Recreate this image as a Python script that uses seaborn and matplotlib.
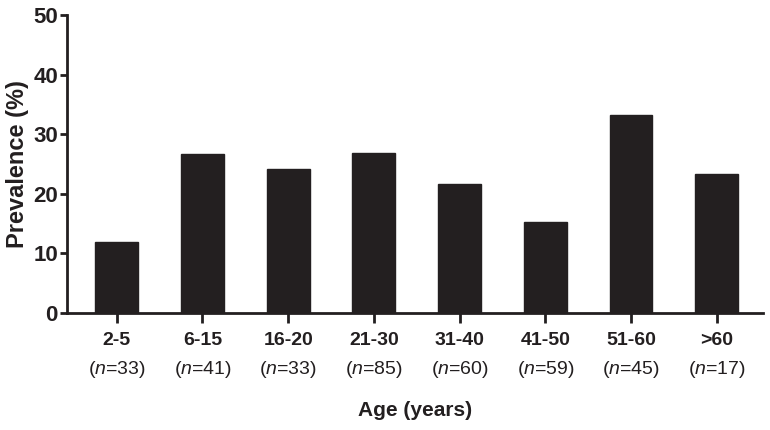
import matplotlib
matplotlib.use('Agg')
import matplotlib.pyplot as plt
import seaborn as sns
import pandas as pd

sns.set_theme(style="ticks")
plt.rcParams['font.family'] = ['Liberation Sans', 'DejaVu Sans']
plt.rcParams['mathtext.fontset'] = 'custom'
plt.rcParams['mathtext.it'] = 'Liberation Sans:italic'
plt.rcParams['mathtext.rm'] = 'Liberation Sans'

# data
age_groups = ['2-5', '6-15', '16-20', '21-30', '31-40', '41-50', '51-60', '>60']
sample_n = [33, 41, 33, 85, 60, 59, 45, 17]
prevalence = [11.9, 26.7, 24.1, 26.9, 21.6, 15.2, 33.2, 23.4]

df = pd.DataFrame({'age': age_groups, 'prev': prevalence})

fig = plt.figure(figsize=(7.7, 4.3), dpi=100)
ax = fig.add_axes([0.087, 0.272, 0.904, 0.693])

sns.barplot(data=df, x='age', y='prev', color='#231f20', width=0.5,
            edgecolor='#231f20', saturation=1, ax=ax)

ax.set_ylim(0, 50)
ax.set_xlim(-0.58, 7.54)
ax.set_yticks([0, 10, 20, 30, 40, 50])
sns.despine(ax=ax)
for side in ['left', 'bottom']:
    ax.spines[side].set_linewidth(2.0)
    ax.spines[side].set_color('#231f20')

ax.tick_params(axis='y', length=5, width=2, color='#231f20', labelsize=16, pad=1.5,
               labelcolor='#231f20')
ax.tick_params(axis='x', length=7, width=2, color='#231f20', labelsize=14, pad=7,
               labelcolor='#231f20')
for lab in ax.get_yticklabels():
    lab.set_fontweight('bold')
ax.set_xticks(range(len(age_groups)))
ax.set_xticklabels(age_groups, fontweight='bold')

# second tick-label line with sample sizes
for i, n in enumerate(sample_n):
    ax.text(i, -0.19, r'($\mathit{n}$=%d)' % n, transform=ax.get_xaxis_transform(),
            ha='center', va='center', fontsize=14, color='#231f20')

ax.set_ylabel('Prevalence (%)', fontsize=17, fontweight='bold', labelpad=3,
              color='#231f20')
ax.set_xlabel('Age (years)', fontsize=15, fontweight='bold', labelpad=37,
              color='#231f20')

fig.savefig('out.png', dpi=100)
